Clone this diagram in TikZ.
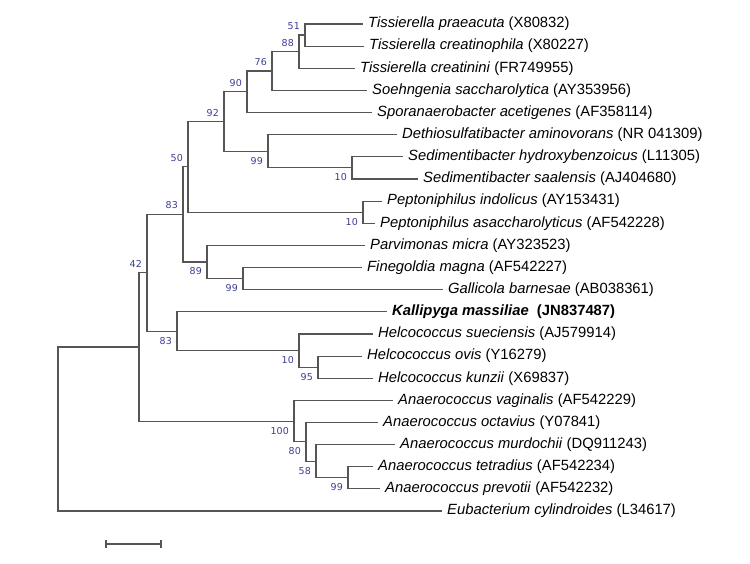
\documentclass[tikz,border=0pt]{standalone}
\usepackage{fontspec}
\setmainfont{Liberation Sans}
\newfontfamily\bsfont{DejaVu Sans}
\definecolor{bscol}{RGB}{60,60,150}
\definecolor{brcol}{RGB}{85,85,85}
\begin{document}
\begin{tikzpicture}[x=1pt,y=-1pt,
  br/.style={draw=brcol,line width=1.1pt},
  tx/.style={anchor=west,inner sep=0pt,xshift=5pt,font=\fontsize{14.8}{16}\selectfont},
  bsa/.style={anchor=east,inner sep=0pt,xshift=-5pt,yshift=9pt,text=bscol,font=\bsfont\fontsize{9.5}{10}\selectfont},
  bsb/.style={anchor=east,inner sep=0pt,xshift=-5pt,yshift=-9.5pt,text=bscol,font=\bsfont\fontsize{9.5}{10}\selectfont}]
\useasboundingbox (0,0) rectangle (750,564);
% leaves
\coordinate (l1) at (363,24);
\coordinate (l2) at (364,46.1);
\coordinate (l3) at (355,68.3);
\coordinate (l4) at (367,90.4);
\coordinate (l5) at (372,112.6);
\coordinate (l6) at (397,134.7);
\coordinate (l7) at (403,156.8);
\coordinate (l8) at (418,179);
\coordinate (l9) at (382,201.1);
\coordinate (l10) at (375,223.3);
\coordinate (l11) at (365,245.4);
\coordinate (l12) at (362,267.5);
\coordinate (l13) at (443,289.7);
\coordinate (l14) at (387,311.8);
\coordinate (l15) at (373,334);
\coordinate (l16) at (362,356.1);
\coordinate (l17) at (373,378.2);
\coordinate (l18) at (393,400.4);
\coordinate (l19) at (378,422.5);
\coordinate (l20) at (395,444.7);
\coordinate (l21) at (373,466.8);
\coordinate (l22) at (380,488.9);
\coordinate (l23) at (442,511);
% internal nodes
\coordinate (n51) at (305,35.05);
\coordinate (n88) at (299,51.7);
\coordinate (n76) at (272,71.05);
\coordinate (n90) at (247,91.8);
\coordinate (n10a) at (352,167.9);
\coordinate (n99a) at (268,151.3);
\coordinate (n92) at (224,121.55);
\coordinate (n10b) at (363,212.2);
\coordinate (n50) at (188,166.9);
\coordinate (n99b) at (243,278.6);
\coordinate (n89) at (207,262);
\coordinate (n83a) at (183,214.45);
\coordinate (n95) at (318,367.15);
\coordinate (n10c) at (299,350.6);
\coordinate (n83b) at (177,331.2);
\coordinate (n42) at (147,272.8);
\coordinate (n99c) at (348,477.85);
\coordinate (n58) at (316,461.3);
\coordinate (n80) at (306,441.9);
\coordinate (n100) at (294,421.15);
\coordinate (nX) at (139,347);
\coordinate (root) at (58,429);
% branches
\foreach \p/\c in {n51/l1,n51/l2,n88/n51,n88/l3,n76/n88,n76/l4,n90/n76,n90/l5,
  n10a/l7,n10a/l8,n99a/l6,n99a/n10a,n92/n90,n92/n99a,n10b/l9,n10b/l10,n50/n92,n50/n10b,
  n99b/l12,n99b/l13,n89/l11,n89/n99b,n83a/n50,n83a/n89,
  n95/l16,n95/l17,n10c/l15,n10c/n95,n83b/l14,n83b/n10c,n42/n83a,n42/n83b,
  n99c/l21,n99c/l22,n58/l20,n58/n99c,n80/l19,n80/n58,n100/l18,n100/n80,
  nX/n42,nX/n100,root/nX,root/l23}
  \draw[br] (\p) |- (\c);
% taxa
\node[tx] (t1) at (l1) {\textit{Tissierella praeacuta} (X80832)};
\node[tx] (t2) at (l2) {\textit{Tissierella creatinophila} (X80227)};
\node[tx] (t3) at (l3) {\textit{Tissierella creatinini} (FR749955)};
\node[tx] (t4) at (l4) {\textit{Soehngenia saccharolytica} (AY353956)};
\node[tx] (t5) at (l5) {\textit{Sporanaerobacter acetigenes} (AF358114)};
\node[tx] (t6) at (l6) {\textit{Dethiosulfatibacter aminovorans} (NR 041309)};
\node[tx] (t7) at (l7) {\textit{Sedimentibacter hydroxybenzoicus} (L11305)};
\node[tx] (t8) at (l8) {\textit{Sedimentibacter saalensis} (AJ404680)};
\node[tx] (t9) at (l9) {\textit{Peptoniphilus indolicus} (AY153431)};
\node[tx] (t10) at (l10) {\textit{Peptoniphilus asaccharolyticus} (AF542228)};
\node[tx] (t11) at (l11) {\textit{Parvimonas micra} (AY323523)};
\node[tx] (t12) at (l12) {\textit{Finegoldia magna} (AF542227)};
\node[tx] (t13) at (l13) {\textit{Gallicola barnesae} (AB038361)};
\node[tx] (t14) at (l14) {\textbf{\textit{Kallipyga massiliae}\ \ (JN837487)}};
\node[tx] (t15) at (l15) {\textit{Helcococcus sueciensis} (AJ579914)};
\node[tx] (t16) at (l16) {\textit{Helcococcus ovis} (Y16279)};
\node[tx] (t17) at (l17) {\textit{Helcococcus kunzii} (X69837)};
\node[tx] (t18) at (l18) {\textit{Anaerococcus vaginalis} (AF542229)};
\node[tx] (t19) at (l19) {\textit{Anaerococcus octavius} (Y07841)};
\node[tx] (t20) at (l20) {\textit{Anaerococcus murdochii} (DQ911243)};
\node[tx] (t21) at (l21) {\textit{Anaerococcus tetradius} (AF542234)};
\node[tx] (t22) at (l22) {\textit{Anaerococcus prevotii} (AF542232)};
\node[tx] (t23) at (l23) {\textit{Eubacterium cylindroides} (L34617)};
% bootstrap values
\node[bsa] (b51) at (n51) {51};
\node[bsa] (b88) at (n88) {88};
\node[bsa] (b76) at (n76) {76};
\node[bsa] (b90) at (n90) {90};
\node[bsa] (b92) at (n92) {92};
\node[bsb] (b99a) at (n99a) {99};
\node[bsb] (b10a) at (n10a) {10};
\node[bsa] (b50) at (n50) {50};
\node[bsb] (b10b) at (n10b) {10};
\node[bsa] (b83a) at (n83a) {83};
\node[bsb] (b89) at (n89) {89};
\node[bsb] (b99b) at (n99b) {99};
\node[bsa] (b42) at (n42) {42};
\node[bsb] (b83b) at (n83b) {83};
\node[bsb] (b10c) at (n10c) {10};
\node[bsb] (b95) at (n95) {95};
\node[bsb] (b100) at (n100) {100};
\node[bsb] (b80) at (n80) {80};
\node[bsb] (b58) at (n58) {58};
\node[bsb] (b99c) at (n99c) {99};
% scale bar
\coordinate (sb1) at (106,544);
\coordinate (sb2) at (161,544);
\draw[br] (sb1) -- (sb2);
\draw[br] ([yshift=4pt]sb1) -- ([yshift=-4pt]sb1);
\draw[br] ([yshift=4pt]sb2) -- ([yshift=-4pt]sb2);
\end{tikzpicture}
\end{document}
